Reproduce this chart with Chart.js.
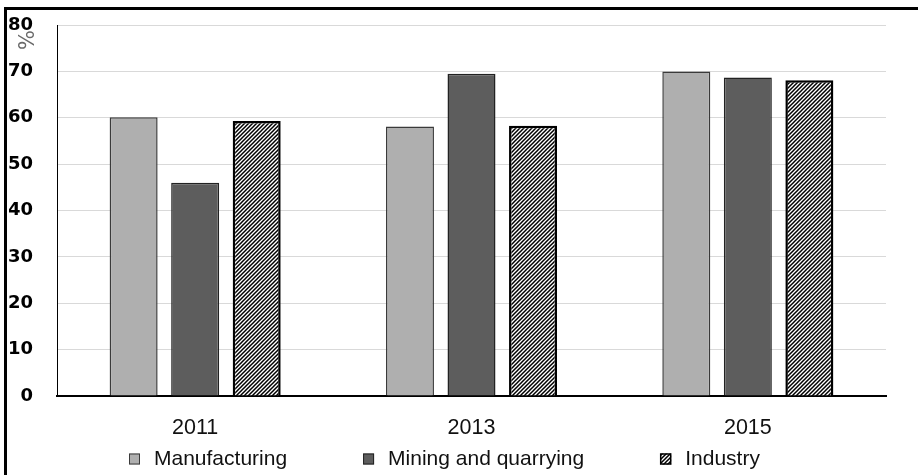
<!DOCTYPE html>
<html lang="en">
<head>
    <meta charset="UTF-8" />
    <title>Manufacturing, Mining and Industry</title>
    <script src="https://cdn.jsdelivr.net/npm/chart.js"></script>
    <style>
        html, body {
            margin: 0;
            padding: 0;
            background: #fff;
        }
        .frame {
            position: absolute;
            left: 4px;
            top: 7px;
            right: 0;
            bottom: 0;
            border-top: 3px solid #000;
            border-left: 3px solid #000;
        }
        .chart-box {
            position: absolute;
            left: 0;
            top: 0;
            width: 918px;
            height: 475px;
        }
    </style>
</head>
<body>
    <div class="frame"></div>
    <div class="chart-box">
        <canvas id="sectorChart"></canvas>
    </div>

<script>
  // Years on the x axis
  const years = ['2011', '2013', '2015'];

  // Series values (%)
  const manufacturing = [60.1, 58.1, 70.0];
  const mining = [46.0, 69.5, 68.7];
  const industry = [59.3, 58.3, 68.1];

  const seriesNames = ['Manufacturing', 'Mining and quarrying', 'Industry'];

  // y axis: 0..80 in steps of 10
  const yMin = 0;
  const yMax = 80;
  const yStep = 10;
  const yUnit = '%';

  // Diagonal hatch used for the Industry bars
  function makeHatch() {
    const tile = document.createElement('canvas');
    tile.width = 4;
    tile.height = 4;
    const c = tile.getContext('2d');
    c.fillStyle = '#fff';
    c.fillRect(0, 0, 4, 4);
    c.strokeStyle = '#000';
    c.lineWidth = 1.5;
    c.beginPath();
    c.moveTo(-1, 5); c.lineTo(5, -1);
    c.moveTo(-3, 3); c.lineTo(3, -3);
    c.moveTo(1, 7); c.lineTo(7, 1);
    c.stroke();
    return c.createPattern(tile, 'repeat');
  }
  const hatch = makeHatch();

  // Rotated unit label under the top tick
  const unitLabel = {
    id: 'unitLabel',
    afterDraw(chart) {
      const ctx = chart.ctx;
      const y = chart.scales.y;
      ctx.save();
      ctx.translate(29, y.getPixelForValue(yMax) + 15);
      ctx.rotate(-Math.PI / 2);
      ctx.font = '21px "DejaVu Sans"';
      ctx.fillStyle = '#6a6a6a';
      ctx.textAlign = 'center';
      ctx.textBaseline = 'middle';
      ctx.fillText(yUnit, 0, 0);
      ctx.restore();
    }
  };

  // Legend row under the year labels
  const legendRow = {
    id: 'legendRow',
    afterDraw(chart) {
      const ctx = chart.ctx;
      const area = chart.chartArea;
      const box = 11;
      const textGap = 14;
      const itemGap = 76;
      const yMid = 459;
      ctx.save();
      ctx.font = '21px "Liberation Sans"';
      ctx.textBaseline = 'middle';
      ctx.textAlign = 'left';
      let x = area.left + 72;
      chart.data.datasets.forEach(ds => {
        ctx.fillStyle = ds.backgroundColor;
        ctx.fillRect(x, yMid - box / 2, box, box);
        ctx.lineWidth = ds.borderWidth > 2 ? 1.5 : 1;
        ctx.strokeStyle = ds.borderColor;
        ctx.strokeRect(x + 0.5, yMid - box / 2 + 0.5, box - 1, box - 1);
        x += box + textGap;
        ctx.fillStyle = '#111';
        ctx.fillText(ds.label, x, yMid);
        x += ctx.measureText(ds.label).width + itemGap;
      });
      ctx.restore();
    }
  };

  const ctx = document.getElementById('sectorChart').getContext('2d');
  new Chart(ctx, {
    type: 'bar',
    data: {
      labels: years,
      datasets: [{
        label: seriesNames[0],
        data: manufacturing,
        backgroundColor: '#afafaf',
        borderColor: '#3a3a3a',
        borderWidth: 1.5
      }, {
        label: seriesNames[1],
        data: mining,
        backgroundColor: '#5d5d5d',
        borderColor: '#222',
        borderWidth: 1.5
      }, {
        label: seriesNames[2],
        data: industry,
        backgroundColor: hatch,
        borderColor: '#000',
        borderWidth: 2.5
      }]
    },
    options: {
      responsive: true,
      maintainAspectRatio: false,
      animation: false,
      layout: {
        padding: { left: 9, right: 32, top: 25, bottom: 39 }
      },
      datasets: {
        bar: {
          categoryPercentage: 0.668,
          barPercentage: 0.78
        }
      },
      plugins: {
        legend: { display: false },
        tooltip: { enabled: false }
      },
      scales: {
        x: {
          grid: { display: false },
          border: { display: true, color: '#000', width: 2 },
          ticks: {
            color: '#111',
            padding: 11,
            font: { family: 'Liberation Sans', size: 21.5 }
          },
          afterFit: s => { s.height = 40; }
        },
        y: {
          min: yMin,
          max: yMax,
          grid: { color: '#d9d9d9', lineWidth: 1, drawTicks: false },
          border: { display: true, color: '#000', width: 1 },
          ticks: {
            stepSize: yStep,
            color: '#000',
            padding: 24,
            font: { family: 'DejaVu Sans', size: 18, weight: 'bold' }
          },
          // fixed axis width; labels may overhang the plot top/bottom
          afterFit: s => {
            s.width = 48;
            s.paddingTop = 0;
            s.paddingBottom = 0;
          }
        }
      }
    },
    plugins: [unitLabel, legendRow]
  });
</script>
</body>
</html>
